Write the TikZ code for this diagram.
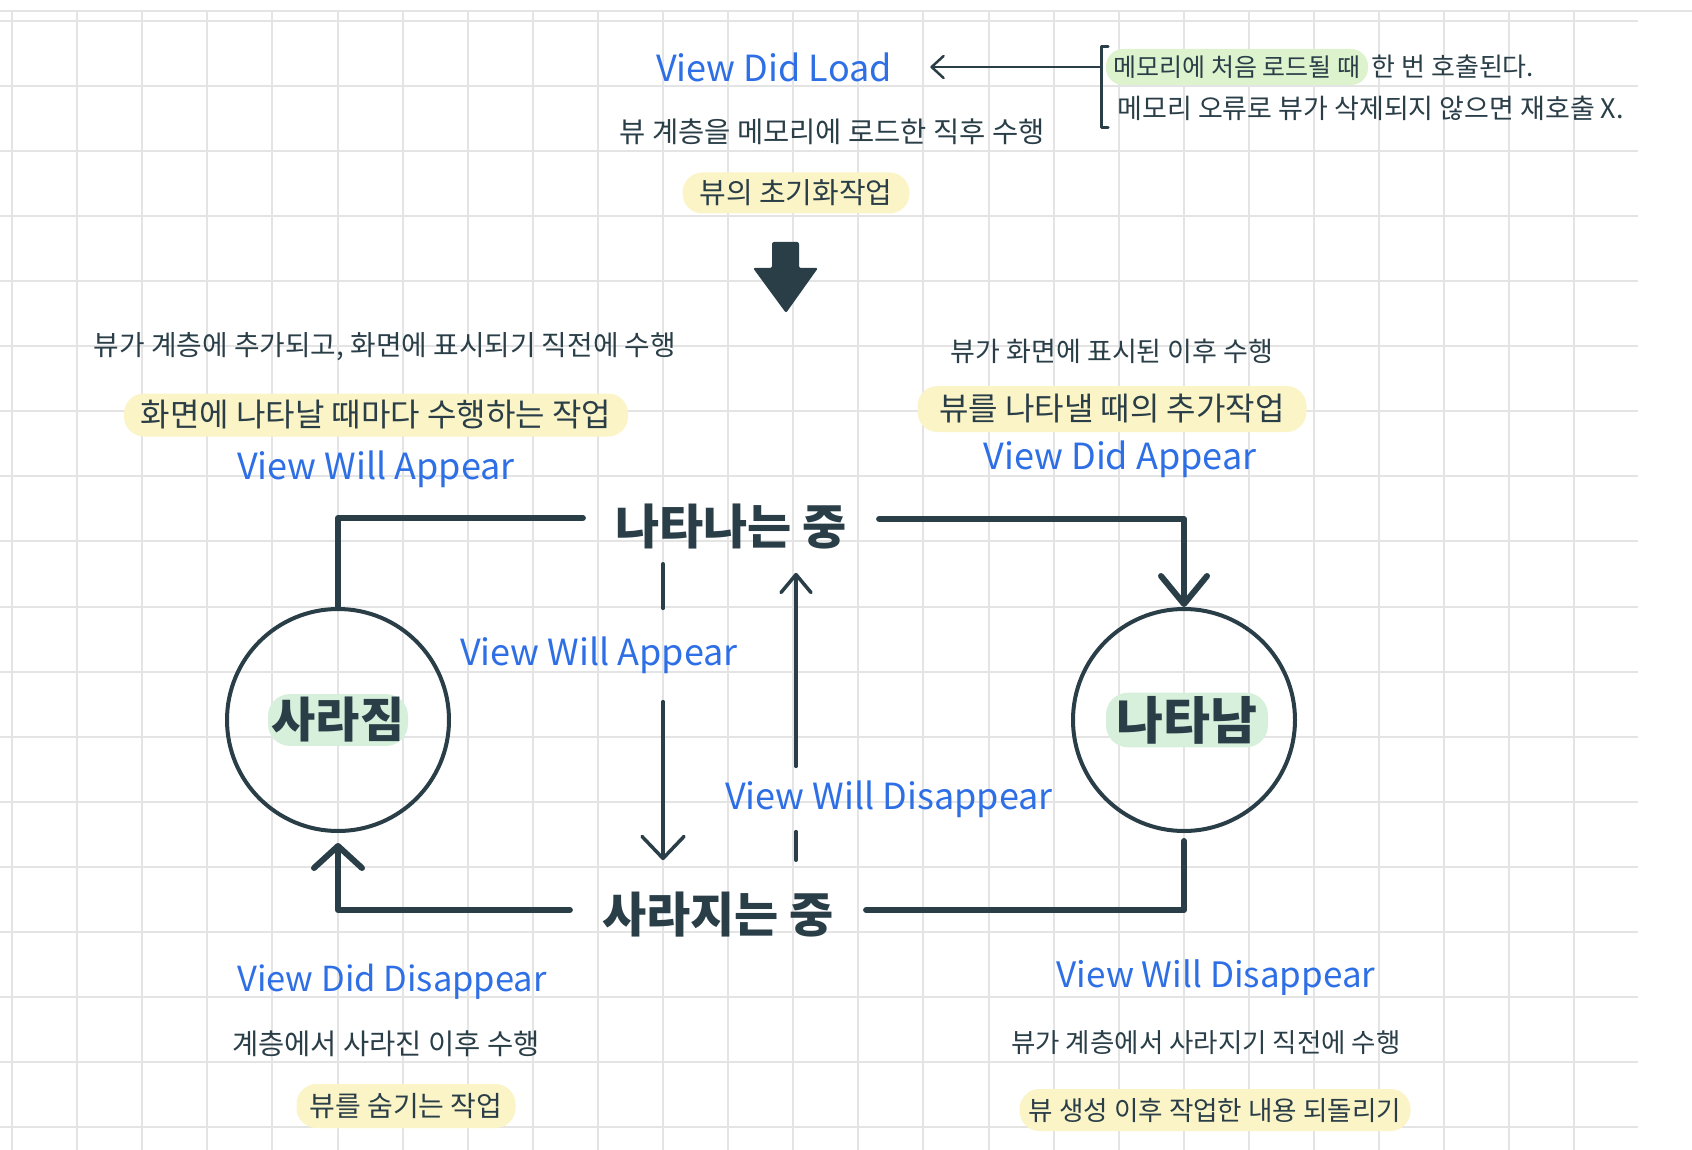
\documentclass[tikz,border=0pt]{standalone}
\usepackage{fontspec}
\setmainfont{Noto Sans CJK KR}
\usepackage{tikz}
\usetikzlibrary{positioning}
\usetikzlibrary{arrows.meta,arrows}

\definecolor{ink}{HTML}{2A3E48}
\definecolor{vcblue}{HTML}{2E6FE6}
\definecolor{yellowhl}{HTML}{FBF4C6}
\definecolor{greenhl}{HTML}{DDF3CD}
\definecolor{mint}{HTML}{D6F0DC}
\definecolor{gridc}{HTML}{E4E4E4}

\newcommand{\fs}[1]{\fontsize{#1}{#1}\selectfont}

\begin{document}
\begin{tikzpicture}[x=1pt, y=-1pt,
  txt/.style={text=ink, font=\fs{27}},
  vc/.style={text=vcblue, font=\fs{36}},
  hl/.style={text=ink, fill=yellowhl, rounded corners=20pt, font=\fs{28}},
  lab/.style={text=ink, fill=mint, rounded corners=22pt, font=\bfseries\fs{48}, minimum height=49pt},
  st/.style={text=ink, font=\bfseries\fs{48}, inner xsep=32pt, inner ysep=14pt},
  circ/.style={circle, draw=ink, line width=4pt, minimum size=222pt},
  wire/.style={draw=ink, line width=6pt, line join=round, line cap=round},
  fine/.style={draw=ink, line width=3.5pt, line cap=round},
  gl/.style={draw=gridc, line width=2pt},
  ar/.style={-{Straight Barb[length=28pt,width=46pt,round]}},
  ar2/.style={-{Straight Barb[length=22pt,width=48pt,round]}},
  ar3/.style={-{Straight Barb[length=22pt,width=42pt,round]}},
  ar4/.style={-{Straight Barb[length=18pt,width=30pt,round]}}]
  \useasboundingbox (0,0) rectangle (1692,1150);
  \fill[white] (0,0) rectangle (1692,1150);

  % grid paper
  \draw[gl] (0,11) -- (1692,11);
  \foreach \i in {0,...,24}
    \draw[gl] ({12+65.1*\i},11) -- ({12+65.1*\i},1150);
  \foreach \j in {0,...,17}
    \draw[gl] (0,{21+65.06*\j}) -- (1638,{21+65.06*\j});

  % viewDidLoad
  \node[vc] (load) at (774,67) {View Did Load};
  \node[txt, font=\fs{28.5}] (d0) at (832,132) {뷰 계층을 메모리에 로드한 직후 수행};
  \node[hl, minimum width=227pt, minimum height=41pt, font=\fs{29}] (h0) at (796,193) {뷰의 초기화작업};

  \node[text=ink, fill=greenhl, rounded corners=17pt, minimum width=262pt, minimum height=36pt, font=\fs{25}] (n1) at (1237,67) {메모리에 처음 로드될 때};
  \node[text=ink, font=\fs{26}, right=0pt of n1] (n1b) {한 번 호출된다.};
  \node[text=ink, font=\fs{27}, anchor=west] (n2) at (1114,108) {메모리 오류로 뷰가 삭제되지 않으면 재호출 X.};
  \coordinate (bt) at (1101,47);
  \coordinate (bb) at (1101,128);
  \draw[fine, line width=3pt, line join=round] ([xshift=7pt]bt) -- (bt) -- (bb) -- ([xshift=7pt]bb);
  \draw[fine, line width=2.5pt, -{Straight Barb[length=12pt,width=22pt,round]}, shorten >=35pt] (bt |- load) -- (load);

  \fill[ink, rounded corners=2pt] (772,242) -- (799,242) -- (799,268) -- (818,268) -- (786,313) -- (753,268) -- (772,268) -- cycle;

  % viewWillAppear / viewDidAppear
  \node[txt, font=\fs{27.8}] (d1) at (385,347) {뷰가 계층에 추가되고, 화면에 표시되기 직전에 수행};
  \node[hl, minimum width=504pt, minimum height=43pt, font=\fs{32}] (h1) at (376,415) {화면에 나타날 때마다 수행하는 작업};
  \node[vc] (b1) at (376,469) {View Will Appear};

  \node[txt] (d2) at (1112,351) {뷰가 화면에 표시된 이후 수행};
  \node[hl, minimum width=389pt, minimum height=46pt, font=\fs{32}] (h2) at (1112,409) {뷰를 나타낼 때의 추가작업};
  \node[vc] (b2) at (1120,459) {View Did Appear};

  % states
  \node[st] (app) at (731,527) {나타나는 중};
  \node[st] (disg) at (718,915) {사라지는 중};
  \node[circ] (dis) at (338,720) {};
  \node[lab, minimum width=140pt] (disl) at (dis) {사라짐};
  \node[circ] (apd) at (1184,720) {};
  \node[lab, minimum width=162pt, font=\bfseries\fs{51}] (apdl) at (1187,720) {나타남};

  \draw[wire] (dis.north) |- ([yshift=9pt]app.west);
  \draw[wire, ar] ([yshift=8pt]app.east) -| (apd.north);
  \draw[wire, shorten <=8pt] (apd.south) |- ([yshift=5pt]disg.east);
  \draw[wire, ar2, shorten >=10pt] ([yshift=5pt]disg.west) -| (dis.south);

  % transitions in the middle
  \node[vc, inner ysep=28pt] (m1) at (599,655) {View Will Appear};
  \node[vc, inner ysep=14pt] (m2) at (889,799) {View Will Disappear};
  \coordinate (xa) at (663,0);
  \coordinate (xb) at (796,0);
  \draw[fine] (app.south -| xa) -- (m1.north -| xa);
  \draw[fine, ar3, shorten >=18pt] (m1.south -| xa) -- (disg.north -| xa);
  \draw[fine, shorten <=18pt] (disg.north -| xb) -- (m2.south -| xb);
  \draw[fine, ar4, shorten >=9pt] (m2.north -| xb) -- (app.south -| xb);

  % viewDidDisappear / viewWillDisappear
  \node[vc, font=\fs{34.5}] (b3) at (392,982) {View Did Disappear};
  \node[txt, font=\fs{28.5}] (d3) at (386,1044) {계층에서 사라진 이후 수행};
  \node[hl, minimum width=219pt, minimum height=44pt] (h3) at (406,1106) {뷰를 숨기는 작업};

  \node[vc, font=\fs{35}] (b4) at (1216,978) {View Will Disappear};
  \node[txt, font=\fs{26.5}] (d4) at (1206,1043) {뷰가 계층에서 사라지기 직전에 수행};
  \node[hl, minimum width=391pt, minimum height=42pt, font=\fs{26.6}] (h4) at (1215,1110) {뷰 생성 이후 작업한 내용 되돌리기};
\end{tikzpicture}
\end{document}
